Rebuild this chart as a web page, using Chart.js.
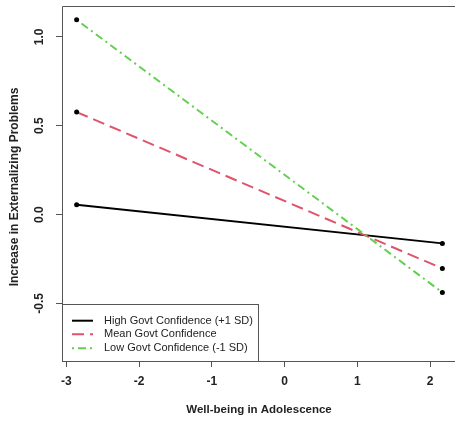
<!DOCTYPE html>
<html>
<head>
<meta charset="utf-8">
<script src="https://cdn.jsdelivr.net/npm/chart.js@4.4.1/dist/chart.umd.min.js"></script>
<style>
  html, body { margin: 0; padding: 0; background: #fff; overflow: hidden; }
  canvas { display: block; }
</style>
</head>
<body>
<canvas id="c" width="455" height="422"></canvas>
<script>
// ---- data ----
const xValues = [-2.86, 2.17];
const highConf = [0.056, -0.162];
const meanConf = [0.577, -0.303];
const lowConf = [1.096, -0.438];
const seriesLabels = ['High Govt Confidence (+1 SD)', 'Mean Govt Confidence', 'Low Govt Confidence (-1 SD)'];
const xTicks = [-3, -2, -1, 0, 1, 2];
const yTicks = [-0.5, 0, 0.5, 1.0];
const xTitle = 'Well-being in Adolescence';
const yTitle = 'Increase in Externalizing Problems';

const FONT = '"Liberation Sans", Arial, Helvetica, sans-serif';
const colors = ['#000000', '#DF536B', '#61D04F'];
const dashes = [[], [12, 6], [2, 4, 8, 4]];
const seriesData = [highConf, meanConf, lowConf];

const datasets = seriesData.map((vals, i) => ({
  label: seriesLabels[i],
  data: xValues.map((x, j) => ({x: x, y: vals[j]})),
  borderColor: colors[i],
  borderWidth: 2,
  borderDash: dashes[i],
  pointRadius: 2.5,
  pointBackgroundColor: '#000',
  pointBorderColor: '#000',
  pointBorderWidth: 0,
  showLine: true,
  fill: false,
  tension: 0,
  order: 3 - i
}));

const axisColor = '#555';

const decor = {
  id: 'decor',
  afterDraw(chart) {
    const ctx = chart.ctx;
    const a = chart.chartArea;
    const ys = chart.scales.y;
    const L = Math.round(a.left) + 0.5, T = Math.round(a.top) + 0.5, B = Math.round(a.bottom) + 0.5;
    ctx.save();
    // clear the right margin strip (the box's right side lies off the page)
    ctx.fillStyle = '#fff';
    ctx.fillRect(chart.width - 3, T + 1, 3, B - T - 2);
    // plot box (top, left, bottom)
    ctx.strokeStyle = axisColor;
    ctx.lineWidth = 1;
    ctx.beginPath();
    ctx.moveTo(chart.width + 5, T); ctx.lineTo(L, T); ctx.lineTo(L, B); ctx.lineTo(chart.width + 5, B);
    ctx.stroke();
    // y tick labels (rotated like R)
    ctx.fillStyle = '#222';
    ctx.font = 'bold 12px ' + FONT;
    ctx.textAlign = 'center';
    ctx.textBaseline = 'middle';
    yTicks.forEach(v => {
      const py = ys.getPixelForValue(v);
      ctx.save();
      ctx.translate(40, py);
      ctx.rotate(-Math.PI / 2);
      ctx.fillText(v.toFixed(1), 0, 0);
      ctx.restore();
    });
    // axis titles
    ctx.font = 'bold 11.5px ' + FONT;
    ctx.fillText(xTitle, 259, 410);
    ctx.font = 'bold 12px ' + FONT;
    ctx.save();
    ctx.translate(15, 187);
    ctx.rotate(-Math.PI / 2);
    ctx.fillText(yTitle, 0, 0);
    ctx.restore();
    // legend
    const lx = L, ly = 304.5, lw = 196, lh = B - 304.5;
    ctx.fillStyle = '#fff';
    ctx.fillRect(lx, ly, lw, lh);
    ctx.strokeStyle = axisColor;
    ctx.strokeRect(lx, ly, lw, lh);
    const rows = [320.7, 334.3, 348.3];
    ctx.font = '11px ' + FONT;
    ctx.textAlign = 'left';
    rows.forEach((ry, i) => {
      ctx.beginPath();
      ctx.setLineDash(dashes[i]);
      ctx.strokeStyle = colors[i];
      ctx.lineWidth = 2;
      ctx.moveTo(72, ry);
      ctx.lineTo(93, ry);
      ctx.stroke();
      ctx.setLineDash([]);
      ctx.fillStyle = '#222';
      ctx.fillText(seriesLabels[i], 104, ry);
    });
    ctx.restore();
  }
};

new Chart(document.getElementById('c'), {
  type: 'scatter',
  data: { datasets: datasets },
  options: {
    responsive: false,
    animation: false,
    devicePixelRatio: 1,
    layout: { padding: { left: 0, top: 6, right: 0, bottom: 0 }, autoPadding: false },
    plugins: { legend: { display: false }, tooltip: { enabled: false } },
    scales: {
      x: {
        type: 'linear',
        min: -3.0612,
        max: 2.3437,
        afterBuildTicks: s => { s.ticks = xTicks.map(v => ({value: v})); },
        afterFit: s => { s.height = 61; },
        grid: { drawOnChartArea: false, drawTicks: true, tickLength: 6, color: axisColor, lineWidth: 1 },
        border: { display: false },
        ticks: {
          color: '#222',
          font: { family: FONT, size: 12, weight: 'bold' },
          padding: 7,
          maxRotation: 0,
          minRotation: 0,
          callback: v => String(v)
        }
      },
      y: {
        type: 'linear',
        min: -0.824,
        max: 1.174,
        afterBuildTicks: s => { s.ticks = yTicks.map(v => ({value: v})); },
        afterFit: s => { s.width = 62; },
        grid: { drawOnChartArea: false, drawTicks: true, tickLength: 6, color: axisColor, lineWidth: 1 },
        border: { display: false },
        ticks: { display: false }
      }
    }
  },
  plugins: [decor]
});
</script>
</body>
</html>
